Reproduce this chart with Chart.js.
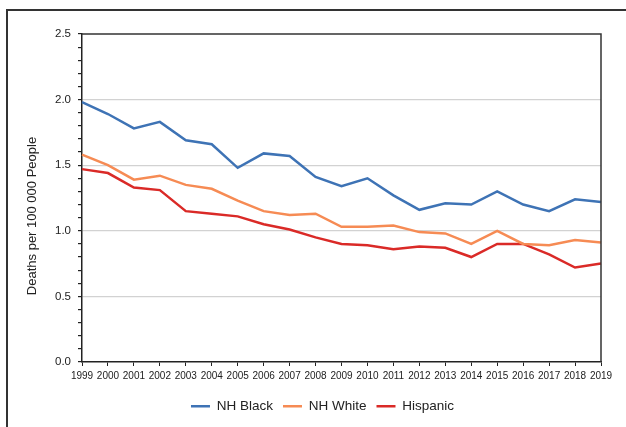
<!DOCTYPE html>
<html>
<head>
<meta charset="utf-8">
<script src="https://cdn.jsdelivr.net/npm/chart.js@4/dist/chart.umd.min.js"></script>
<style>
  html, body { margin: 0; padding: 0; background: #fff; }
  #wrap { position: relative; width: 626px; height: 427px; overflow: hidden; }
  #frame { position: absolute; left: 6px; top: 9px; width: 700px; height: 500px;
           border-left: 2px solid #333; border-top: 2px solid #333; }
  canvas { position: absolute; left: 0; top: 0; }
</style>
</head>
<body>
<div id="wrap">
  <div id="frame"></div>
  <canvas id="deathsChart" width="626" height="427"></canvas>
</div>
<script>
var years = ['1999', '2000', '2001', '2002', '2003', '2004', '2005', '2006', '2007', '2008', '2009',
             '2010', '2011', '2012', '2013', '2014', '2015', '2016', '2017', '2018', '2019'];
var nhBlack = [1.98, 1.89, 1.78, 1.83, 1.69, 1.66, 1.48, 1.59, 1.57, 1.41, 1.34,
               1.40, 1.27, 1.16, 1.21, 1.20, 1.30, 1.20, 1.15, 1.24, 1.22];
var nhWhite = [1.58, 1.50, 1.39, 1.42, 1.35, 1.32, 1.23, 1.15, 1.12, 1.13, 1.03,
               1.03, 1.04, 0.99, 0.98, 0.90, 1.00, 0.90, 0.89, 0.93, 0.91];
var hispanic = [1.47, 1.44, 1.33, 1.31, 1.15, 1.13, 1.11, 1.05, 1.01, 0.95, 0.90,
                0.89, 0.86, 0.88, 0.87, 0.80, 0.90, 0.90, 0.82, 0.72, 0.75];
var yTitle = 'Deaths per 100 000 People';

var FONT = "'Liberation Sans', Arial, Helvetica, sans-serif";

function isMajor(v) {
    return Math.abs(v * 2 - Math.round(v * 2)) < 1e-6;
}

// top and right edges of the plot box, plus the y title placed like the original
var framePlugin = {
    id: 'framePlugin',
    afterDraw: function(chart) {
        var a = chart.chartArea;
        var c = chart.ctx;
        c.save();
        c.strokeStyle = '#333';
        c.lineWidth = 1.5;
        c.beginPath();
        c.moveTo(a.left, a.top);
        c.lineTo(a.right, a.top);
        c.lineTo(a.right, a.bottom);
        c.stroke();
        c.translate(32, 216);
        c.rotate(-Math.PI / 2);
        c.fillStyle = '#222';
        c.font = '13px ' + FONT;
        c.textAlign = 'center';
        c.textBaseline = 'middle';
        c.fillText(yTitle, 0, 0);
        c.restore();
    }
};

function series(label, data, color) {
    return {
        label: label,
        data: data,
        borderColor: color,
        backgroundColor: color,
        borderWidth: 2.5,
        pointRadius: 0,
        tension: 0,
        fill: false
    };
}

var ctx = document.getElementById('deathsChart').getContext('2d');
var chart = new Chart(ctx, {
    type: 'line',
    data: {
        labels: years,
        datasets: [
            series('NH Black', nhBlack, '#3e73b5'),
            series('NH White', nhWhite, '#f68b54'),
            series('Hispanic', hispanic, '#da2a27')
        ]
    },
    plugins: [framePlugin],
    options: {
        responsive: false,
        animation: false,
        layout: { padding: { left: 44, top: 34, right: 25, bottom: 4 } },
        scales: {
            x: {
                offset: false,
                grid: { drawOnChartArea: false, tickLength: 4, tickColor: '#222', tickWidth: 1 },
                border: { color: '#222', width: 1.5 },
                ticks: {
                    autoSkip: false, maxRotation: 0, minRotation: 0, padding: 4,
                    color: '#222', font: { family: FONT, size: 10 }
                },
                afterFit: function(scale) { scale.height = 27.5; }
            },
            y: {
                min: 0,
                max: 2.5,
                grid: {
                    tickLength: 4,
                    tickColor: '#222',
                    color: function(c) {
                        var v = c.tick ? c.tick.value : 0;
                        if (v > 0.01 && v < 2.49 && isMajor(v)) return '#d2d2d2';
                        return 'rgba(0,0,0,0)';
                    },
                    lineWidth: 1.2
                },
                border: { color: '#222', width: 1.5 },
                ticks: {
                    stepSize: 0.1,
                    autoSkip: false,
                    padding: 7,
                    color: '#222',
                    font: { family: FONT, size: 11.5 },
                    callback: function(value) {
                        return isMajor(value) ? value.toFixed(1) : '';
                    }
                },
                afterFit: function(scale) { scale.width = 38; }
            }
        },
        plugins: {
            legend: {
                position: 'bottom',
                labels: {
                    boxWidth: 19,
                    boxHeight: 2.5,
                    padding: 10,
                    color: '#222',
                    font: { family: FONT, size: 13.5 },
                    generateLabels: function(chart) {
                        var items = Chart.defaults.plugins.legend.labels.generateLabels(chart);
                        items.forEach(function(it) { it.lineWidth = 0; });
                        return items;
                    }
                }
            },
            tooltip: { enabled: false }
        }
    }
});
</script>
</body>
</html>
